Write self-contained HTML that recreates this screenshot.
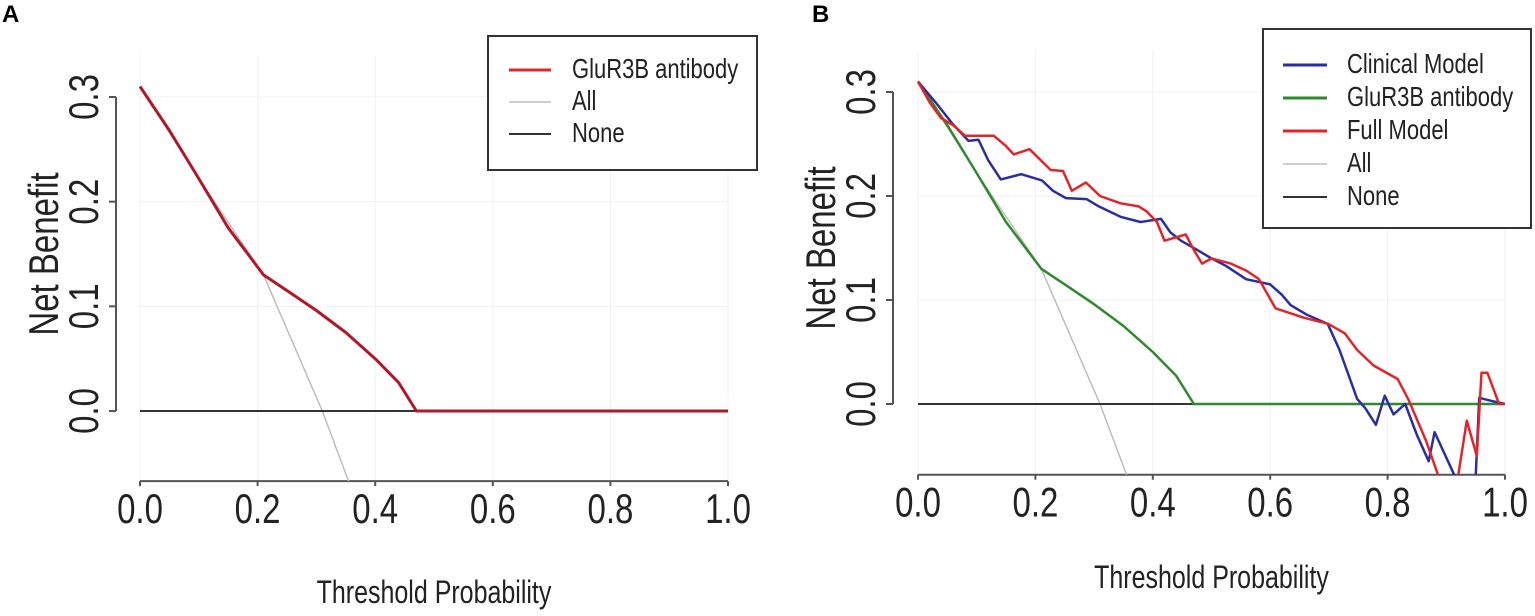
<!DOCTYPE html>
<html><head><meta charset="utf-8"><style>
html,body{margin:0;padding:0;background:#fff;}
svg{display:block;font-family:"Liberation Sans",sans-serif;}
</style></head><body>
<svg id="fig" width="1535" height="616" viewBox="0 0 1535 616">
<text x="2" y="22" font-size="24" font-weight="bold">A</text>
<text x="812" y="22" font-size="24" font-weight="bold">B</text>
<g id="pa"></g>
<g id="pb"></g>
</svg>
<script>
const xTicks=[0,0.2,0.4,0.6,0.8,1.0];
const xTickLabels=["0.0","0.2","0.4","0.6","0.8","1.0"];
const yTicks=[0,0.1,0.2,0.3];
const yTickLabels=["0.0","0.1","0.2","0.3"];
// GluR3B antibody (both panels)
const gluT=[0,0.05,0.1,0.15,0.21,0.25,0.3,0.35,0.4,0.44,0.47,1.0];
const gluV=[0.31,0.268,0.222,0.175,0.13,0.115,0.096,0.075,0.05,0.027,0,0];
// Treat all
const allT=[0,0.1,0.21,0.31,0.36];
const allV=[0.31,0.222,0.13,0,-0.075];
// None
const noneT=[0,1];
const noneV=[0,0];
// Full model (panel B)
const fullT=[0,0.02,0.039,0.06,0.08,0.129,0.15,0.163,0.19,0.226,0.247,0.262,0.286,0.31,0.345,0.376,0.39,0.407,0.42,0.456,0.47,0.484,0.5,0.533,0.56,0.581,0.609,0.657,0.699,0.727,0.748,0.776,0.817,0.835,0.866,0.887,0.92,0.935,0.952,0.96,0.97,0.99,1.0];
const fullV=[0.31,0.29,0.275,0.268,0.258,0.258,0.248,0.24,0.245,0.225,0.224,0.205,0.213,0.2,0.193,0.19,0.185,0.175,0.157,0.163,0.148,0.135,0.14,0.135,0.128,0.12,0.092,0.083,0.077,0.068,0.052,0.037,0.024,0.005,-0.036,-0.07,-0.07,-0.016,-0.05,0.03,0.03,0,0];
// Clinical model (panel B)
const clinT=[0,0.03,0.058,0.086,0.103,0.12,0.141,0.176,0.211,0.23,0.252,0.287,0.308,0.345,0.379,0.414,0.43,0.448,0.476,0.5,0.524,0.559,0.6,0.62,0.635,0.662,0.698,0.718,0.748,0.762,0.78,0.795,0.81,0.83,0.85,0.87,0.88,0.915,0.95,0.956,0.977,1.0];
const clinV=[0.31,0.29,0.27,0.253,0.254,0.234,0.216,0.221,0.215,0.205,0.198,0.197,0.19,0.18,0.175,0.178,0.165,0.157,0.148,0.14,0.133,0.12,0.115,0.105,0.095,0.086,0.077,0.052,0.005,-0.004,-0.02,0.008,-0.01,0,-0.03,-0.055,-0.027,-0.07,-0.07,0.006,0.003,0];

const NS="http://www.w3.org/2000/svg";
function mk(parent,tag,attrs){const e=document.createElementNS(NS,tag);for(const k in attrs)e.setAttribute(k,attrs[k]);parent.appendChild(e);return e;}

function panel(g,P){
  const sx=v=>P.x0+(P.x1-P.x0)*v;
  const sy=v=>P.y0-(P.y0-P.y3)*v/0.3;
  const ymin=P.ymin;
  const cid='clip'+P.id;
  const defs=mk(g,'defs',{});
  const cp=mk(defs,'clipPath',{id:cid});
  mk(cp,'rect',{x:sx(0)-2,y:sy(0.34),width:sx(1)-sx(0)+6,height:sy(ymin)-sy(0.34)});
  xTicks.forEach(t=>{const l=mk(g,'line',{x1:sx(t),x2:sx(t),y1:sy(0.34),y2:sy(ymin),stroke:'#f1f1f1','stroke-width':1});
    
    });
  yTicks.forEach(t=>{const l=mk(g,'line',{x1:sx(0),x2:sx(1),y1:sy(t),y2:sy(t),stroke:'#f1f1f1','stroke-width':1});
    
    });
  const xa=mk(g,'line',{x1:sx(0),x2:sx(1),y1:sy(ymin),y2:sy(ymin),stroke:'#555','stroke-width':2});
  
  
  xTicks.forEach((t,i)=>{
    mk(g,'line',{x1:sx(t),x2:sx(t),y1:sy(ymin),y2:sy(ymin)+5,stroke:'#555','stroke-width':2});
    const tx=mk(g,'text',{transform:`translate(${sx(t)},${sy(ymin)+42}) scale(1,1.25)`,'text-anchor':'middle','font-size':33,fill:'#222'});
    tx.textContent=xTickLabels[i];
    
    
  });
  const ya=mk(g,'line',{x1:P.ax,x2:P.ax,y1:sy(0),y2:sy(0.3),stroke:'#555','stroke-width':2});
  
  
  yTicks.forEach((t,i)=>{
    mk(g,'line',{x1:P.ax-7,x2:P.ax,y1:sy(t),y2:sy(t),stroke:'#555','stroke-width':2});
    const tx=mk(g,'text',{transform:`translate(${P.ax-18},${sy(t)}) rotate(-90) scale(1,1.25)`,'text-anchor':'middle','font-size':33,fill:'#222'});
    tx.textContent=yTickLabels[i];
    
    
  });
  const yt=mk(g,'text',{transform:`translate(${P.ax-58},${(sy(0)+sy(0.3))/2}) rotate(-90) scale(1,1.25)`,'text-anchor':'middle','font-size':33,fill:'#222'});
  yt.textContent='Net Benefit';
  
  
  const xt=mk(g,'text',{transform:`translate(${(sx(0)+sx(1))/2},${P.xtY}) scale(1,1.3)`,'text-anchor':'middle','font-size':25,fill:'#222'});
  xt.textContent='Threshold Probability';
  
  
  const plot=mk(g,'g',{'clip-path':`url(#${cid})`});
  P.series.forEach(s=>{
    const d=s.t.map((t,i)=>(i?'L':'M')+sx(t).toFixed(1)+','+sy(Math.max(s.v[i],ymin-0.01)).toFixed(1)).join('');
    const p=mk(plot,'path',{d:d,fill:'none',stroke:s.c,'stroke-width':s.w,'stroke-linejoin':'round'});
    
    
  });
  const L=P.leg;
  const lg=mk(g,'g',{});
  
  
  mk(lg,'rect',{x:L.x,y:L.y,width:L.w,height:L.h,fill:'#fff',stroke:'#333','stroke-width':2});
  L.items.forEach((it,i)=>{
    const y=L.first+i*L.step;
    mk(lg,'line',{x1:L.lx1,x2:L.lx2,y1:y,y2:y,stroke:it.c,'stroke-width':it.w});
    const tx=mk(lg,'text',{transform:`translate(${L.tx},${y+8}) scale(1,1.25)`,'font-size':22,fill:'#222'});
    tx.textContent=it.label;
    
    
  });
}
const RED_A='#b0182a',RED='#e0262a',BLUE='#2b2f9e',GREEN='#2f8a2f',GREY='#bdbdbd',BLACK='#333';
panel(document.getElementById('pa'),{id:'a',x0:140,x1:728,y0:411,y3:97,ymin:-0.067,ax:116,xtY:603,
  series:[{name:'all-line',t:allT,v:allV,c:GREY,w:1.5},{name:'none-line',t:noneT,v:noneV,c:BLACK,w:2},{name:'glur3b-line',t:gluT,v:gluV,c:RED_A,w:3}],
  leg:{x:488,y:36,w:269,h:134,first:70,step:32,lx1:509,lx2:551,tx:572,items:[{label:'GluR3B antibody',c:RED,w:3},{label:'All',c:GREY,w:1.5},{label:'None',c:BLACK,w:2}]}});
panel(document.getElementById('pb'),{id:'b',x0:918,x1:1505,y0:404,y3:92,ymin:-0.068,ax:893,xtY:588,
  series:[{name:'all-line',t:allT,v:allV,c:GREY,w:1.5},{name:'none-line',t:noneT,v:noneV,c:BLACK,w:2},{name:'glur3b-line',t:gluT,v:gluV,c:GREEN,w:2.5},{name:'clinical-model-line',t:clinT,v:clinV,c:BLUE,w:2.5},{name:'full-model-line',t:fullT,v:fullV,c:RED,w:2.5}],
  leg:{x:1263,y:29,w:268,h:199,first:65,step:33,lx1:1283,lx2:1327,tx:1347,items:[{label:'Clinical Model',c:BLUE,w:3},{label:'GluR3B antibody',c:GREEN,w:3},{label:'Full Model',c:RED,w:3},{label:'All',c:GREY,w:1.5},{label:'None',c:BLACK,w:2}]}});
</script>
</body></html>
